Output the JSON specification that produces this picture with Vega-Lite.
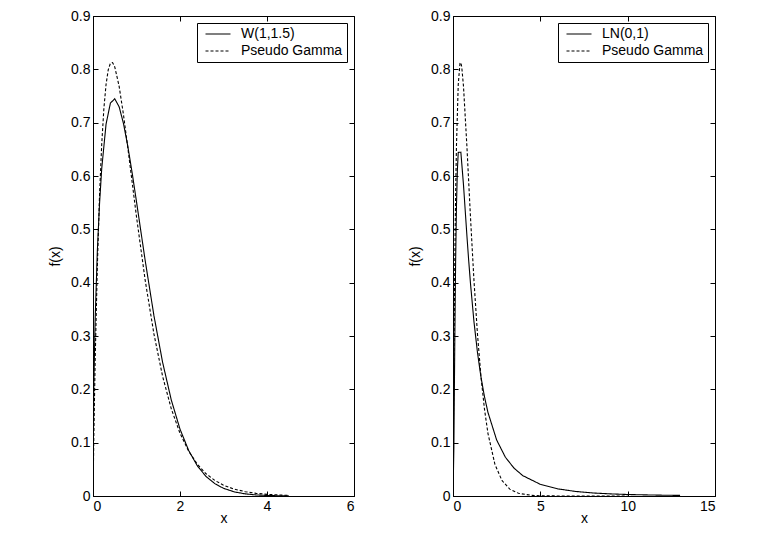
{
  "$schema": "https://vega.github.io/schema/vega-lite/v6.json",
  "padding": {"left": 48, "top": 8, "right": 10, "bottom": 5},
  "background": "white",
  "spacing": 53,
  "config": {
    "font": "Liberation Sans",
    "view": {"stroke": "black", "strokeWidth": 1},
    "axis": {
      "domainColor": "black", "tickColor": "black", "labelColor": "black", "titleColor": "black",
      "grid": false, "labelFont": "Liberation Sans", "titleFont": "Liberation Sans",
      "labelFontSize": 14, "titleFontSize": 14, "titleFontWeight": "normal",
      "tickSize": -5, "labelPadding": 8
    },
    "legend": {
      "labelFont": "Liberation Sans", "labelFontSize": 14, "labelColor": "black"
    }
  },
  "datasets": {
    "left": [
      {"x": 0, "y": 0, "s": "W(1,1.5)"},
      {"x": 0.02, "y": 0.2115, "s": "W(1,1.5)"},
      {"x": 0.05, "y": 0.3317, "s": "W(1,1.5)"},
      {"x": 0.1, "y": 0.4596, "s": "W(1,1.5)"},
      {"x": 0.15, "y": 0.5482, "s": "W(1,1.5)"},
      {"x": 0.2, "y": 0.6134, "s": "W(1,1.5)"},
      {"x": 0.3, "y": 0.6971, "s": "W(1,1.5)"},
      {"x": 0.4, "y": 0.7367, "s": "W(1,1.5)"},
      {"x": 0.5, "y": 0.7448, "s": "W(1,1.5)"},
      {"x": 0.6, "y": 0.73, "s": "W(1,1.5)"},
      {"x": 0.7, "y": 0.6987, "s": "W(1,1.5)"},
      {"x": 0.8, "y": 0.6559, "s": "W(1,1.5)"},
      {"x": 0.9, "y": 0.6059, "s": "W(1,1.5)"},
      {"x": 1.0, "y": 0.5518, "s": "W(1,1.5)"},
      {"x": 1.2, "y": 0.4413, "s": "W(1,1.5)"},
      {"x": 1.4, "y": 0.3386, "s": "W(1,1.5)"},
      {"x": 1.6, "y": 0.2507, "s": "W(1,1.5)"},
      {"x": 1.8, "y": 0.1799, "s": "W(1,1.5)"},
      {"x": 2.0, "y": 0.1254, "s": "W(1,1.5)"},
      {"x": 2.2, "y": 0.0852, "s": "W(1,1.5)"},
      {"x": 2.4, "y": 0.0564, "s": "W(1,1.5)"},
      {"x": 2.6, "y": 0.0365, "s": "W(1,1.5)"},
      {"x": 2.8, "y": 0.0232, "s": "W(1,1.5)"},
      {"x": 3.0, "y": 0.0144, "s": "W(1,1.5)"},
      {"x": 3.25, "y": 0.0077, "s": "W(1,1.5)"},
      {"x": 3.5, "y": 0.004, "s": "W(1,1.5)"},
      {"x": 3.75, "y": 0.002, "s": "W(1,1.5)"},
      {"x": 4.0, "y": 0.001, "s": "W(1,1.5)"},
      {"x": 4.25, "y": 0.0005, "s": "W(1,1.5)"},
      {"x": 4.5, "y": 0.0002, "s": "W(1,1.5)"},
      {"x": 0, "y": 0, "s": "Pseudo Gamma"},
      {"x": 0.02, "y": 0.1176, "s": "Pseudo Gamma"},
      {"x": 0.05, "y": 0.2549, "s": "Pseudo Gamma"},
      {"x": 0.1, "y": 0.432, "s": "Pseudo Gamma"},
      {"x": 0.15, "y": 0.5632, "s": "Pseudo Gamma"},
      {"x": 0.2, "y": 0.6586, "s": "Pseudo Gamma"},
      {"x": 0.25, "y": 0.7265, "s": "Pseudo Gamma"},
      {"x": 0.3, "y": 0.7715, "s": "Pseudo Gamma"},
      {"x": 0.35, "y": 0.7989, "s": "Pseudo Gamma"},
      {"x": 0.4, "y": 0.8114, "s": "Pseudo Gamma"},
      {"x": 0.45, "y": 0.8127, "s": "Pseudo Gamma"},
      {"x": 0.5, "y": 0.8046, "s": "Pseudo Gamma"},
      {"x": 0.6, "y": 0.7686, "s": "Pseudo Gamma"},
      {"x": 0.7, "y": 0.7152, "s": "Pseudo Gamma"},
      {"x": 0.8, "y": 0.6533, "s": "Pseudo Gamma"},
      {"x": 0.9, "y": 0.5884, "s": "Pseudo Gamma"},
      {"x": 1.0, "y": 0.5235, "s": "Pseudo Gamma"},
      {"x": 1.2, "y": 0.4043, "s": "Pseudo Gamma"},
      {"x": 1.4, "y": 0.3041, "s": "Pseudo Gamma"},
      {"x": 1.6, "y": 0.2244, "s": "Pseudo Gamma"},
      {"x": 1.8, "y": 0.1634, "s": "Pseudo Gamma"},
      {"x": 2.0, "y": 0.1176, "s": "Pseudo Gamma"},
      {"x": 2.2, "y": 0.0838, "s": "Pseudo Gamma"},
      {"x": 2.4, "y": 0.0593, "s": "Pseudo Gamma"},
      {"x": 2.6, "y": 0.0417, "s": "Pseudo Gamma"},
      {"x": 2.8, "y": 0.0292, "s": "Pseudo Gamma"},
      {"x": 3.0, "y": 0.0203, "s": "Pseudo Gamma"},
      {"x": 3.25, "y": 0.0128, "s": "Pseudo Gamma"},
      {"x": 3.5, "y": 0.0081, "s": "Pseudo Gamma"},
      {"x": 3.75, "y": 0.005, "s": "Pseudo Gamma"},
      {"x": 4.0, "y": 0.0031, "s": "Pseudo Gamma"},
      {"x": 4.25, "y": 0.002, "s": "Pseudo Gamma"},
      {"x": 4.5, "y": 0.0012, "s": "Pseudo Gamma"}
    ],
    "right": [
      {"x": 0, "y": 0, "s": "LN(0,1)"},
      {"x": 0.05, "y": 0.0898, "s": "LN(0,1)"},
      {"x": 0.1, "y": 0.2815, "s": "LN(0,1)"},
      {"x": 0.15, "y": 0.4399, "s": "LN(0,1)"},
      {"x": 0.2, "y": 0.5463, "s": "LN(0,1)"},
      {"x": 0.25, "y": 0.6104, "s": "LN(0,1)"},
      {"x": 0.3, "y": 0.6442, "s": "LN(0,1)"},
      {"x": 0.45, "y": 0.6446, "s": "LN(0,1)"},
      {"x": 0.6, "y": 0.5836, "s": "LN(0,1)"},
      {"x": 0.7, "y": 0.5348, "s": "LN(0,1)"},
      {"x": 0.8, "y": 0.4864, "s": "LN(0,1)"},
      {"x": 0.9, "y": 0.4408, "s": "LN(0,1)"},
      {"x": 1.0, "y": 0.3989, "s": "LN(0,1)"},
      {"x": 1.2, "y": 0.3269, "s": "LN(0,1)"},
      {"x": 1.4, "y": 0.2693, "s": "LN(0,1)"},
      {"x": 1.6, "y": 0.2232, "s": "LN(0,1)"},
      {"x": 1.8, "y": 0.1865, "s": "LN(0,1)"},
      {"x": 2.0, "y": 0.1569, "s": "LN(0,1)"},
      {"x": 2.5, "y": 0.1049, "s": "LN(0,1)"},
      {"x": 3.0, "y": 0.0727, "s": "LN(0,1)"},
      {"x": 3.5, "y": 0.052, "s": "LN(0,1)"},
      {"x": 4.0, "y": 0.0381, "s": "LN(0,1)"},
      {"x": 5.0, "y": 0.0219, "s": "LN(0,1)"},
      {"x": 6.0, "y": 0.0134, "s": "LN(0,1)"},
      {"x": 7.0, "y": 0.0086, "s": "LN(0,1)"},
      {"x": 8.0, "y": 0.0057, "s": "LN(0,1)"},
      {"x": 9.0, "y": 0.004, "s": "LN(0,1)"},
      {"x": 10.0, "y": 0.0028, "s": "LN(0,1)"},
      {"x": 11.0, "y": 0.0021, "s": "LN(0,1)"},
      {"x": 12.0, "y": 0.0015, "s": "LN(0,1)"},
      {"x": 13.0, "y": 0.0011, "s": "LN(0,1)"},
      {"x": 0, "y": 0, "s": "Pseudo Gamma"},
      {"x": 0.05, "y": 0.2549, "s": "Pseudo Gamma"},
      {"x": 0.1, "y": 0.432, "s": "Pseudo Gamma"},
      {"x": 0.15, "y": 0.5632, "s": "Pseudo Gamma"},
      {"x": 0.2, "y": 0.6586, "s": "Pseudo Gamma"},
      {"x": 0.3, "y": 0.7715, "s": "Pseudo Gamma"},
      {"x": 0.4, "y": 0.8114, "s": "Pseudo Gamma"},
      {"x": 0.45, "y": 0.8127, "s": "Pseudo Gamma"},
      {"x": 0.5, "y": 0.8046, "s": "Pseudo Gamma"},
      {"x": 0.6, "y": 0.7686, "s": "Pseudo Gamma"},
      {"x": 0.8, "y": 0.6533, "s": "Pseudo Gamma"},
      {"x": 1.0, "y": 0.5235, "s": "Pseudo Gamma"},
      {"x": 1.2, "y": 0.4043, "s": "Pseudo Gamma"},
      {"x": 1.4, "y": 0.3041, "s": "Pseudo Gamma"},
      {"x": 1.6, "y": 0.2244, "s": "Pseudo Gamma"},
      {"x": 1.8, "y": 0.1634, "s": "Pseudo Gamma"},
      {"x": 2.0, "y": 0.1176, "s": "Pseudo Gamma"},
      {"x": 2.4, "y": 0.0593, "s": "Pseudo Gamma"},
      {"x": 2.8, "y": 0.0292, "s": "Pseudo Gamma"},
      {"x": 3.25, "y": 0.0128, "s": "Pseudo Gamma"},
      {"x": 3.75, "y": 0.005, "s": "Pseudo Gamma"},
      {"x": 4.5, "y": 0.0012, "s": "Pseudo Gamma"},
      {"x": 5.0, "y": 0.0005, "s": "Pseudo Gamma"},
      {"x": 6.0, "y": 0.0001, "s": "Pseudo Gamma"},
      {"x": 8.0, "y": 0, "s": "Pseudo Gamma"},
      {"x": 10.0, "y": 0, "s": "Pseudo Gamma"}
    ]
  },
  "hconcat": [
    {
      "width": 261,
      "height": 480,
      "data": {"name": "left"},
      "resolve": {"axis": {"x": "independent", "y": "independent"}},
      "layer": [
        {
          "mark": {"type": "line", "color": "black", "strokeWidth": 1.1, "clip": true},
          "encoding": {
            "x": {"field": "x", "type": "quantitative", "scale": {"domain": [0, 6], "nice": false},
                  "axis": {"values": [0, 2, 4, 6], "title": "x", "titlePadding": -2, "format": "~g"}},
            "y": {"field": "y", "type": "quantitative", "scale": {"domain": [0, 0.9], "nice": false},
                  "axis": {"values": [0, 0.1, 0.2, 0.3, 0.4, 0.5, 0.6, 0.7, 0.8, 0.9], "title": "f(x)", "titlePadding": 8, "format": "~g"}},
            "strokeDash": {"field": "s", "type": "nominal",
              "scale": {"domain": ["W(1,1.5)", "Pseudo Gamma"], "range": [[1, 0], [3, 2]]},
              "legend": {"title": null, "orient": "top-right", "offset": 7, "fillColor": "white", "strokeColor": "black",
                         "padding": 4, "symbolType": "M-0.4,0H3.6", "symbolSize": 156.25, "symbolStrokeWidth": 1.1,
                         "symbolStrokeColor": "black", "symbolFillColor": "transparent",
                         "labelOffset": 26, "rowPadding": 3}},
            "detail": {"field": "s"}
          }
        },
        {
          "mark": {"type": "line", "opacity": 0},
          "encoding": {
            "x": {"field": "x", "type": "quantitative",
                  "axis": {"orient": "top", "values": [0, 2, 4, 6], "labels": false, "title": null, "domain": false}},
            "y": {"field": "y", "type": "quantitative",
                  "axis": {"orient": "right", "values": [0, 0.1, 0.2, 0.3, 0.4, 0.5, 0.6, 0.7, 0.8, 0.9], "labels": false, "title": null, "domain": false}}
          }
        }
      ]
    },
    {
      "width": 262,
      "height": 480,
      "data": {"name": "right"},
      "resolve": {"axis": {"x": "independent", "y": "independent"}},
      "layer": [
        {
          "mark": {"type": "line", "color": "black", "strokeWidth": 1.1, "clip": true},
          "encoding": {
            "x": {"field": "x", "type": "quantitative", "scale": {"domain": [0, 15], "nice": false},
                  "axis": {"values": [0, 5, 10, 15], "title": "x", "titlePadding": -2, "format": "~g"}},
            "y": {"field": "y", "type": "quantitative", "scale": {"domain": [0, 0.9], "nice": false},
                  "axis": {"values": [0, 0.1, 0.2, 0.3, 0.4, 0.5, 0.6, 0.7, 0.8, 0.9], "title": "f(x)", "titlePadding": 8, "format": "~g"}},
            "strokeDash": {"field": "s", "type": "nominal",
              "scale": {"domain": ["LN(0,1)", "Pseudo Gamma"], "range": [[1, 0], [3, 2]]},
              "legend": {"title": null, "orient": "top-right", "offset": 7, "fillColor": "white", "strokeColor": "black",
                         "padding": 4, "symbolType": "M-0.4,0H3.6", "symbolSize": 156.25, "symbolStrokeWidth": 1.1,
                         "symbolStrokeColor": "black", "symbolFillColor": "transparent",
                         "labelOffset": 26, "rowPadding": 3}},
            "detail": {"field": "s"}
          }
        },
        {
          "mark": {"type": "line", "opacity": 0},
          "encoding": {
            "x": {"field": "x", "type": "quantitative",
                  "axis": {"orient": "top", "values": [0, 5, 10, 15], "labels": false, "title": null, "domain": false}},
            "y": {"field": "y", "type": "quantitative",
                  "axis": {"orient": "right", "values": [0, 0.1, 0.2, 0.3, 0.4, 0.5, 0.6, 0.7, 0.8, 0.9], "labels": false, "title": null, "domain": false}}
          }
        }
      ]
    }
  ],
  "resolve": {"scale": {"strokeDash": "independent"}}
}
